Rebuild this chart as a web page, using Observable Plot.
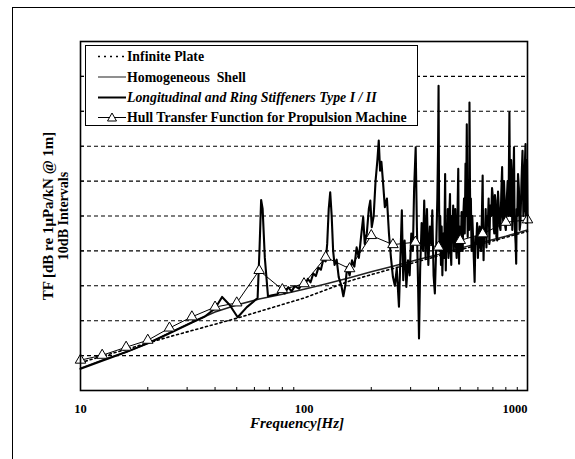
<!DOCTYPE html>
<html><head><meta charset="utf-8">
<script src="https://cdn.jsdelivr.net/npm/d3@7"></script>
<script src="https://cdn.jsdelivr.net/npm/@observablehq/plot@0.6"></script>
<style>
body{margin:0;background:#fff;}
#wrap{position:relative;width:575px;height:459px;overflow:hidden;background:#fff;}
#border{position:absolute;left:12px;top:7px;right:-5px;bottom:-5px;border-left:1.5px solid #000;border-top:1.5px solid #000;pointer-events:none;}
#chart{position:absolute;left:0;top:0;}
#legend{position:absolute;left:85px;top:45px;width:333px;height:81px;box-sizing:border-box;border:1px solid #000;background:#fff;}
#legend text{font-family:"Liberation Serif",serif;font-weight:bold;font-size:13.8px;white-space:pre;}
</style></head>
<body><div id="wrap"><div id="border"></div><div id="chart"></div><div id="legend"></div></div>
<script>
// 1/3-octave hull transfer function (triangles)
const hullFreq = [10,12.5,16,20,25,31.5,40,50,63,80,100,125,160,200,250,315,400,500,630,800,1000];
const hullTF   = [8.7,10.1,12.4,14.4,17.9,21.1,23.9,25.1,34.4,28.9,30.6,38.2,34.9,44.4,41.8,42.5,41.1,43.0,44.9,48.2,48.9];
// infinite plate (dotted)
const plateFreq = [10,25,50,100,160,200,400,1000];
const plateTF   = [8,15.4,20.7,26.5,31.4,33.2,38.6,45.6];
// homogeneous shell (thin)
const shellFreq = [10,12.5,16,20,25,31.5,40,50,63,80,100,125,160,200,250,315,400,500,630,800,1000];
const shellTF   = [6.4,8.7,11,13.5,16.5,19.5,22.5,24.5,26.2,27.6,29,30.5,32.3,34,35.6,37.3,39,40.8,42.5,44.2,46];
// longitudinal and ring stiffeners (thick)
const stiffFreq = [10,12.5,16,20,25,31.5,36,40,43,46.5,50.5,55.5,59,62,63.2,64.3,65.3,66.8,69,72,76,79,82,85,88,91,95,98,101,104,107,110,113,116,119,122,125,127,129,131,133,135,137,140,143,147,150,153,156,160,164,168,172,176,180,184,187,191,195,198,201,205,209,213,216,219,222,226,230,235,240,245,250,255,260,266,270,274,278,282,287,292,297,302,307,311,316,320,324,327,331,336,341,345,350,355,360,366,371,375,380,385,390,395,398,
  400,402,404,407,410,413,416,420,424,428,431,434,437,440,443,446,450,453,456,459,462,465,468,471,475,478,482,486,490,492,494,497,500,503,507,510,513,516,520,524,528,531,535,538,540,543,545,548,550,553,555,558,562,566,570,575,580,585,590,595,600,605,610,615,620,625,630,633,636,640,645,650,655,660,665,670,675,681,688,694,700,705,710,715,720,726,732,738,745,751,757,763,770,775,780,785,790,795,800,808,815,822,830,835,840,845,850,855,860,865,870,875,880,885,890,895,900,907,915,922,930,940,950,958,965,972,980,985,990,995,1000];
const stiffTF   = [6.2,8.5,11,13.5,16.4,19.5,21.2,23.5,26.8,24.5,21.0,23.9,25.3,26.5,40,54.6,52,38,27,27.3,27.6,28.9,27.8,29.6,28.4,29.9,29.2,30.6,30.2,32,31,33.5,32.8,35.2,34.6,37.5,37,42,52,56.8,50,40,36,37.5,32.5,30,27,30,35.4,33,37.3,35.5,41,38,44,49.7,42,45,52,54.4,46.8,50,60,66,71.6,63,65.5,59.2,52.5,55,44.9,38,32.5,30,35,24,38,51.6,31.6,43,29.7,37.3,33,45,40,58,69.7,46.8,30,14.9,35,48,40,54.4,38,52,36,47,42,51.6,33,27.8,40,55,70,
  87.3,55,40,50,36,47,33,45,38,62,34.4,46,40,52,38,49,56.3,40,36,50,44,53,40,47,52,42,38,50,63.5,44,36.3,47,45,40,51.1,43,40,50,55,45,65,50,76.3,52,44,54,60,46,82.5,58,48.7,55,40,50,45,38,31.1,44,42,48,38,44,47,41,40,50,61.6,45,37.3,46,44,52,41,50,48,55,42,53,50,58,55.4,47,45,56,54.4,44,43,57,52,47,46,56,64,50,48,60,55,47,46,55,60,50,79.7,55,50,66,62,46,52,60,69.7,50,45,42,36.3,52,50,62,58,46,48,60,68.7,50,52,64,70.6,48,55,66,49.7];
const gridTicks = [10,20,30,40,50,60,70,80,90];
const xTickLabels = [10,100,1000];
const xMinorTicks = [20,30,40,50,60,70,80,90,200,300,400,500,600,700,800,900];
const yLabel1 = "TF [dB re 1μPa/kN @ 1m]";
const yLabel2 = "10dB Intervals";
const xLabel = "Frequency[Hz]";
const legendLabels = ["Infinite Plate","Homogeneous  Shell","Longitudinal and Ring Stiffeners Type I / II","Hull Transfer Function for Propulsion Machine"];

const zip = (fs, vs) => fs.map((f, i) => ({f, v: vs[i]}));
const hull = zip(hullFreq, hullTF), plate = zip(plateFreq, plateTF),
      shell = zip(shellFreq, shellTF), stiff = zip(stiffFreq, stiffTF);

const chart = Plot.plot({
  width: 575, height: 459,
  marginLeft: 80, marginRight: 48, marginTop: 41, marginBottom: 69,
  style: {fontFamily: "'Liberation Serif', serif", fontWeight: "bold", fontSize: "12.5px", background: "transparent", color: "#000"},
  x: {type: "log", domain: [10, 1000]},
  y: {domain: [0, 100], axis: null},
  marks: [
    Plot.ruleY(gridTicks, {stroke: "#000", strokeWidth: 1.1, strokeDasharray: "4,3"}),
    Plot.tickY(gridTicks, {y: d => d, stroke: "#000", insetRight: 443}),
    Plot.tickX(xMinorTicks, {x: d => d, stroke: "#000", insetTop: 346}),
    Plot.line(plate, {x: "f", y: "v", stroke: "#000", strokeWidth: 1.6, strokeDasharray: "2,3"}),
    Plot.line(shell, {x: "f", y: "v", stroke: "#222", strokeWidth: 1.5}),
    Plot.line(stiff, {x: "f", y: "v", stroke: "#000", strokeWidth: 2.1, strokeLinejoin: "round"}),
    Plot.line(hull, {x: "f", y: "v", stroke: "#000", strokeWidth: 1}),
    Plot.dot(hull, {x: "f", y: "v", symbol: "triangle", r: 3.9, fill: "#fff", stroke: "#000", strokeWidth: 1}),
    Plot.frame({stroke: "#000", strokeWidth: 1.6}),
    Plot.axisX({ticks: xTickLabels.slice(0, 2), tickFormat: d => String(d), tickSize: 0, tickPadding: 14, label: null}),
    Plot.axisX({ticks: xTickLabels.slice(2), tickFormat: d => String(d), tickSize: 0, tickPadding: 14, label: null, textAnchor: "end"}),
    Plot.text([xLabel], {frameAnchor: "bottom", dy: 33, dx: -7, fontStyle: "italic", fontSize: 15, lineAnchor: "middle"}),
    Plot.text([yLabel1], {frameAnchor: "left", rotate: -90, dx: -32, textAnchor: "middle", lineAnchor: "middle", fontSize: 15}),
    Plot.text([yLabel2], {frameAnchor: "left", rotate: -90, dx: -17, textAnchor: "middle", lineAnchor: "middle", fontSize: 14})
  ]
});
document.getElementById("chart").appendChild(chart);

// legend
const ns = "http://www.w3.org/2000/svg";
const lg = document.createElementNS(ns, "svg");
lg.setAttribute("width", 331); lg.setAttribute("height", 79);
const rows = [10.5, 31, 51.5, 71.5];
const mk = (tag, attrs) => { const e = document.createElementNS(ns, tag); for (const k in attrs) e.setAttribute(k, attrs[k]); lg.appendChild(e); return e; };
const styles = [
  {sw: 1.6, dash: "2,4", col: "#000"},
  {sw: 1.2, dash: null, col: "#444"},
  {sw: 2, dash: null, col: "#000"},
  {sw: 1, dash: null, col: "#000"}
];
legendLabels.forEach((lab, i) => {
  const y = rows[i];
  const a = {x1: 12, x2: 40, y1: y, y2: y, stroke: styles[i].col, "stroke-width": styles[i].sw};
  if (styles[i].dash) a["stroke-dasharray"] = styles[i].dash;
  mk("line", a);
  if (i === 3) mk("path", {d: `M26,${y-4.5}L30.5,${y+3.5}L21.5,${y+3.5}Z`, fill: "#fff", stroke: "#000", "stroke-width": 1});
  const t = mk("text", {x: 41, y: y, dy: "0.35em"});
  if (i === 2) t.setAttribute("font-style", "italic");
  t.textContent = lab;
});
document.getElementById("legend").appendChild(lg);
</script>
</body></html>
